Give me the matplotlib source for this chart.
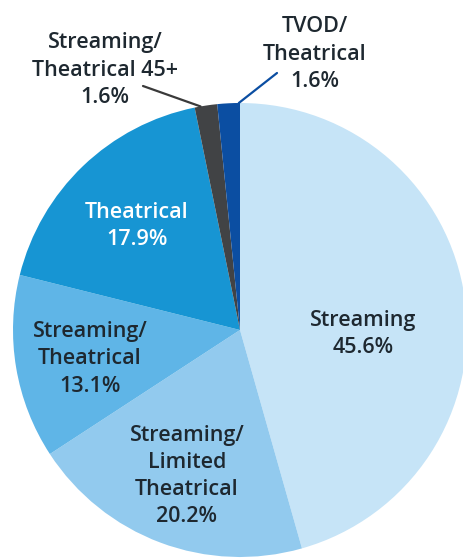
import numpy as np
import matplotlib
matplotlib.use("Agg")
import matplotlib.pyplot as plt

# release strategy shares, clockwise from 12 o'clock
categories = [
    "Streaming",
    "Streaming/\nLimited\nTheatrical",
    "Streaming/\nTheatrical",
    "Theatrical",
    "Streaming/\nTheatrical 45+",
    "TVOD/\nTheatrical",
]
shares = [45.6, 20.2, 13.1, 17.9, 1.6, 1.6]
colors = ["#c6e4f7", "#92caee", "#5fb5e7", "#1795d3", "#414345", "#0b4ea2"]

W, H = 464, 559
CX, CY, R = 240, H - 330, 227

plt.rcParams["font.family"] = ["Open Sans", "DejaVu Sans"]

fig = plt.figure(figsize=(W / 100, H / 100), dpi=100)
ax = fig.add_axes([0, 0, 1, 1])

wedges, _ = ax.pie(shares, colors=colors, startangle=90, counterclock=False,
                   center=(CX, CY), radius=R, frame=True,
                   wedgeprops=dict(linewidth=0))
ax.set_xlim(0, W)
ax.set_ylim(0, H)
ax.set_aspect("equal")
ax.axis("off")

txt = dict(ha="center", va="center", fontsize=15.5, fontweight="semibold",
           color="#1e2830", linespacing=1.38)

def label(i):
    return f"{categories[i]}\n{shares[i]}%"

# labels inside wedges (pixel positions from the top-left of the picture)
inside = {0: (363, 334), 1: (187, 476), 2: (90, 359), 3: (137, 226)}
for i, (x, y) in inside.items():
    kw = dict(txt)
    if i == 3:
        kw["color"] = "white"
    ax.text(x, H - y, label(i), **kw)

# small slices get labels outside with leader lines
def edge(angle_deg):
    a = np.deg2rad(angle_deg)
    return CX + R * np.cos(a), CY + R * np.sin(a)

ax.text(105, H - 70, label(4), **txt)
ax.annotate("", xy=edge(100), xytext=(143, H - 86),
            arrowprops=dict(arrowstyle="-", color="#3a3a3a", lw=1.6,
                            shrinkA=0, shrinkB=0))
ax.text(315, H - 54, label(5), **txt)
ax.annotate("", xy=edge(90.3), xytext=(277, H - 73),
            arrowprops=dict(arrowstyle="-", color="#0b4ea2", lw=1.6,
                            shrinkA=0, shrinkB=0))

fig.savefig("out.png", dpi=100, facecolor="white")
